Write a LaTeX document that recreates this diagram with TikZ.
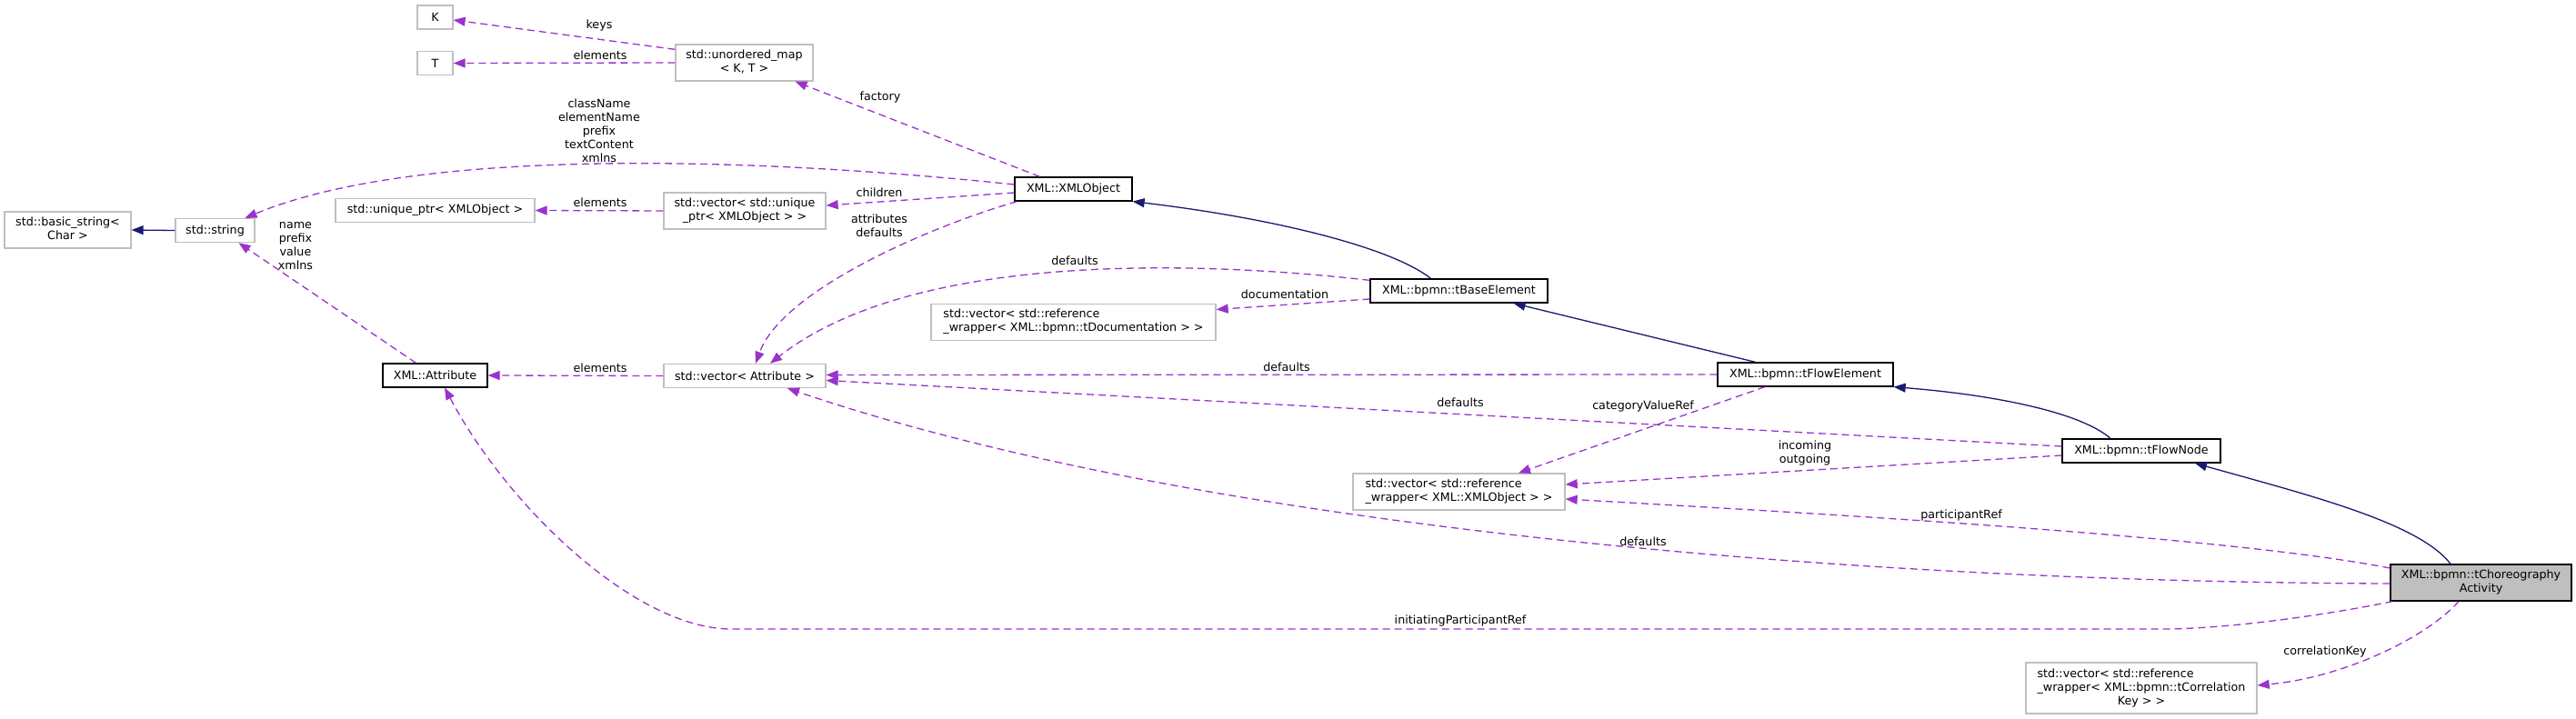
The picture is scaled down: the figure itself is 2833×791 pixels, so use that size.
\documentclass[tikz,border=0pt]{standalone}
\usepackage{fontspec}
\setmainfont{DejaVu Sans}
\usepackage{tikz}
\usetikzlibrary{arrows.meta, positioning}
\definecolor{edgepurple}{HTML}{9A32CD}
\definecolor{edgenavy}{HTML}{191970}
\definecolor{boxgray}{HTML}{BFBFBF}
\newcommand{\wrapped}[2]{\begin{tabular}{@{}l@{}}#1\\\multicolumn{1}{@{}c@{}}{#2}\end{tabular}}

\begin{document}
\begin{tikzpicture}[
    x=1pt, y=-1pt,
    font=\fontsize{12.7}{15}\selectfont,
    box/.style={rectangle, draw=boxgray, line width=1.3pt, fill=white, inner sep=0pt, align=center},
    cls/.style={box, draw=black},
    dep/.style={draw=edgepurple, line width=1.3pt, dash pattern=on 8pt off 5pt, -{Triangle[length=13pt,width=10pt]}},
    inh/.style={draw=edgenavy, line width=1.3pt, -{Triangle[length=13pt,width=10pt]}},
    lbl/.style={inner sep=0pt, align=center}
]
    \useasboundingbox (0,0) rectangle (2833,791);

    % Nodes
    \node[box, minimum width=39pt, minimum height=26pt] (nK) at (478.5,19) {K};
    \node[box, minimum width=39pt, minimum height=26pt] (nT) at (478.5,69.5) {T};
    \node[box, minimum width=151pt, minimum height=40pt] (umap) at (818.5,69) {\wrapped{std::unordered\_map}{< K, T >}};
    \node[box, minimum width=139pt, minimum height=40pt] (bstr) at (74.5,253) {\wrapped{std::basic\_string<}{Char >}};
    \node[box, minimum width=87pt, minimum height=26pt] (str) at (236.5,253.5) {std::string};
    \node[box, minimum width=219pt, minimum height=26pt] (uptr) at (478.5,231.5) {std::unique\_ptr< XMLObject >};
    \node[box, minimum width=178pt, minimum height=40pt] (vecuptr) at (819,232) {\wrapped{std::vector< std::unique}{\_ptr< XMLObject > >}};
    \node[cls, minimum width=129pt, minimum height=26pt] (xmlobj) at (1180.5,208) {XML::XMLObject};
    \node[cls, minimum width=115pt, minimum height=26pt] (attr) at (478.5,413) {XML::Attribute};
    \node[box, minimum width=178pt, minimum height=26pt] (vecattr) at (819,413.5) {std::vector< Attribute >};
    \node[cls, minimum width=195pt, minimum height=26pt] (tbase) at (1604.5,320) {XML::bpmn::tBaseElement};
    \node[box, minimum width=313pt, minimum height=40pt] (vecdoc) at (1180.5,354.5) {\wrapped{std::vector< std::reference}{\_wrapper< XML::bpmn::tDocumentation > >}};
    \node[cls, minimum width=193pt, minimum height=26pt] (tflowel) at (1985.5,412) {XML::bpmn::tFlowElement};
    \node[cls, minimum width=174pt, minimum height=26pt] (tflownode) at (2355,496) {XML::bpmn::tFlowNode};
    \node[box, minimum width=233pt, minimum height=40pt] (vecxml) at (1604.5,541) {\wrapped{std::vector< std::reference}{\_wrapper< XML::XMLObject > >}};
    \node[cls, fill=boxgray, minimum width=199pt, minimum height=40pt] (tchoreo) at (2728.5,641) {\wrapped{XML::bpmn::tChoreography}{Activity}};
    \node[box, minimum width=254pt, minimum height=56pt] (veccorr) at (2355,757) {\wrapped{std::vector< std::reference\\\_wrapper< XML::bpmn::tCorrelation}{Key > >}};

    % Inheritance
    \draw[inh] (str.west) -- (bstr.east);
    \draw[inh] ([xshift=-31pt]tbase.north) .. controls (1530,272) and (1400,240) .. (xmlobj.south east);
    \draw[inh] ([xshift=-55pt]tflowel.north) -- ([xshift=60pt]tbase.south);
    \draw[inh] ([xshift=-34pt]tflownode.north) .. controls (2290,455) and (2200,435) .. (tflowel.south east);
    \draw[inh] ([xshift=-33.5pt]tchoreo.north) .. controls (2660,575) and (2540,545) .. ([xshift=59pt]tflownode.south);

    % Usage
    \draw[dep] ([yshift=-6pt]umap.north west) -- ([yshift=-3pt]nK.east) node[lbl] at (659,28) {keys};
    \draw[dep] (umap.west) -- (nT.east) node[lbl] at (660,61) {elements};
    \draw[dep] ([xshift=-37pt]xmlobj.north) -- ([xshift=56pt]umap.south) node[lbl] at (968,107) {factory};
    \draw[dep] ([yshift=5pt]xmlobj.west) .. controls (800,170) and (450,165) .. ([xshift=33pt]str.north)
        node[lbl] at (659,144) {className\\elementName\\prefix\\textContent\\xmlns};
    \draw[dep] ([yshift=-4pt]xmlobj.west) -- ([yshift=6pt]vecuptr.east) node[lbl] at (967,212) {children};
    \draw[dep] (vecuptr.west) -- (uptr.east) node[lbl] at (660,223) {elements};
    \draw[dep] ([xshift=-62pt]xmlobj.south) .. controls (1020,250) and (860,320) .. ([xshift=12pt]vecattr.north)
        node[lbl] at (967,248) {attributes\\defaults};
    \draw[dep] ([xshift=-21pt]attr.north) -- ([xshift=26pt]str.south) node[lbl] at (325,271) {name\\prefix\\value\\xmlns};
    \draw[dep] (vecattr.west) -- (attr.east) node[lbl] at (660,405) {elements};
    \draw[dep] ([yshift=-2pt]tbase.north west) .. controls (1300,285) and (1000,280) .. ([xshift=28pt]vecattr.north)
        node[lbl] at (1182,287) {defaults};
    \draw[dep] ([yshift=-9pt]tbase.west) -- ([yshift=14pt]vecdoc.east) node[lbl] at (1413,324) {documentation};
    \draw[dep] (tflowel.west) -- ([yshift=1pt]vecattr.east) node[lbl] at (1415,404) {defaults};
    \draw[dep] ([xshift=-44.5pt]tflowel.south) -- ([xshift=65.5pt]vecxml.north) node[lbl] at (1807,447) {categoryValueRef};
    \draw[dep] ([yshift=5pt]tflownode.west) -- ([yshift=-5pt]vecattr.east) node[lbl] at (1606,443) {defaults};
    \draw[dep] ([yshift=-5pt]tflownode.west) -- ([yshift=8pt]vecxml.east) node[lbl] at (1985,498) {incoming\\outgoing};
    \draw[dep] ([yshift=16pt]tchoreo.west) .. controls (2450,590) and (2000,565) .. ([yshift=-8pt]vecxml.east)
        node[lbl] at (2157,567) {participantRef};
    \draw[dep] ([yshift=-1pt]tchoreo.west) .. controls (2000,640) and (1300,575) .. ([xshift=47pt]vecattr.south)
        node[lbl] at (1807,596) {defaults};
    \draw[dep] ([xshift=3pt]tchoreo.south west) .. controls (2540,680) and (2440,692) .. (2378,692) -- (804,692)
        .. controls (700,692) and (560,560) .. ([xshift=10.5pt]attr.south)
        node[lbl] at (1606,683) {initiatingParticipantRef};
    \draw[dep] ([xshift=-24.5pt]tchoreo.south) .. controls (2670,700) and (2580,745) .. ([yshift=3pt]veccorr.east)
        node[lbl] at (2557,717) {correlationKey};
\end{tikzpicture}
\end{document}
